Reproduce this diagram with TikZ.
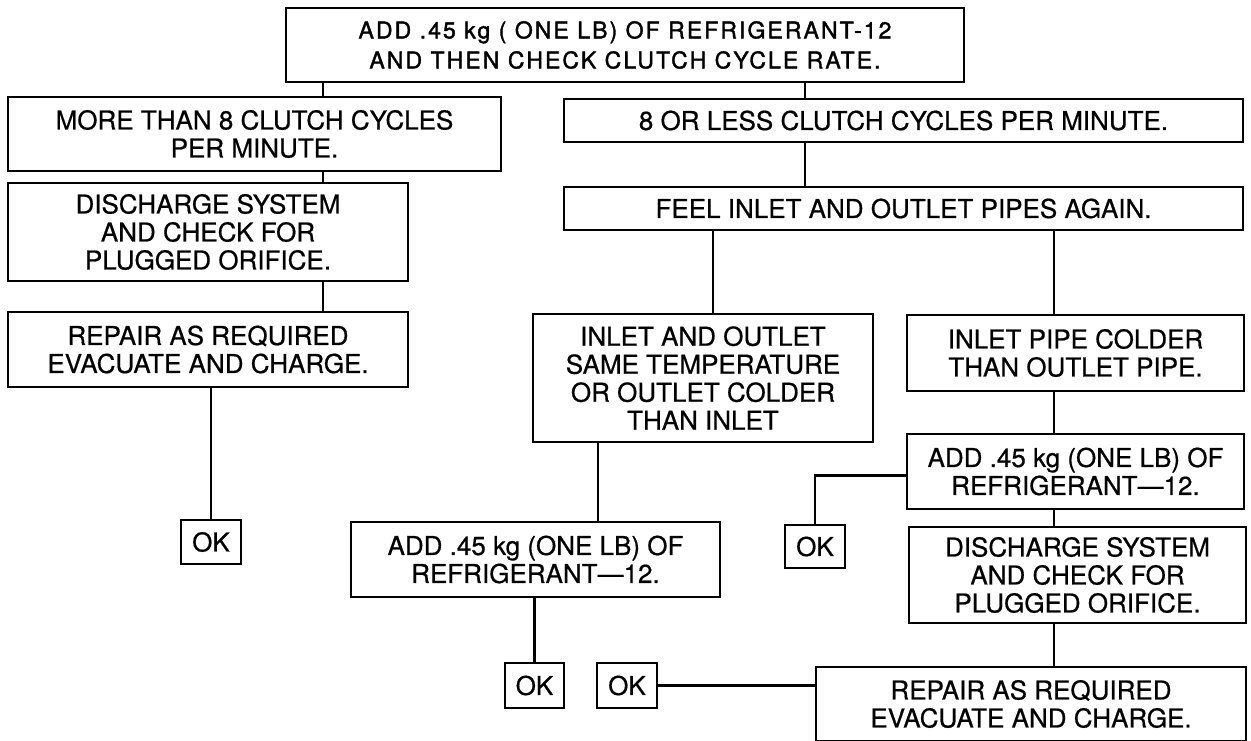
\documentclass[tikz,border=0pt]{standalone}
\usepackage{fontspec}
\setmainfont[FakeBold=0.6]{TeX Gyre Heros}
\newfontfamily\spacedfont[LetterSpace=9,FakeBold=1.6]{TeX Gyre Heros}
\usepackage{tikz}

\newcommand\boxfont{\fontsize{26}{28}\selectfont}
\newcommand\headfont{\spacedfont\fontsize{23}{30}\selectfont}

\tikzset{
	box/.style={draw, line width=2.8pt, align=center, inner sep=0pt, font=\boxfont},
	link/.style={line width=2.8pt},
}

\begin{document}
\begin{tikzpicture}[x=1pt,y=-1pt]
			\useasboundingbox[fill=white] (0,0) rectangle (1251,740);
			
			% left column
			\node[box,minimum width=678pt,minimum height=74pt,font=\headfont] (top) at (625,45) {ADD .45 kg ( ONE LB) OF REFRIGERANT-12\\AND THEN CHECK CLUTCH CYCLE RATE.};
			\node[box,minimum width=493pt,minimum height=74pt] (more) at (254.5,134) {MORE THAN 8 CLUTCH CYCLES\\PER MINUTE.};
			\node[box,minimum width=400pt,minimum height=98pt] (dischL) at (208,232) {DISCHARGE SYSTEM\\AND CHECK FOR\\PLUGGED ORIFICE.};
			\node[box,minimum width=400pt,minimum height=75pt] (repairL) at (208,349.5) {REPAIR AS REQUIRED\\EVACUATE AND CHARGE.};
			\node[box,minimum width=60pt,minimum height=44pt] (okA) at (211,542) {OK};
			
			% right column
			\node[box,minimum width=679pt,minimum height=43pt] (less) at (903.5,120.5) {8 OR LESS CLUTCH CYCLES PER MINUTE.};
			\node[box,minimum width=679pt,minimum height=43pt] (feel) at (903.5,208.5) {FEEL INLET AND OUTLET PIPES AGAIN.};
			\node[box,minimum width=340pt,minimum height=128pt] (same) at (703,378) {INLET AND OUTLET\\SAME TEMPERATURE\\OR OUTLET COLDER\\THAN INLET};
			\node[box,minimum width=337pt,minimum height=76pt] (colder) at (1075.5,353) {INLET PIPE COLDER\\THAN OUTLET PIPE.};
			\node[box,minimum width=337pt,minimum height=75pt] (addR) at (1075.5,471.5) {ADD .45 kg (ONE LB) OF\\REFRIGERANT—12.};
			\node[box,minimum width=60pt,minimum height=43pt] (okB) at (815,546.5) {OK};
			\node[box,minimum width=337pt,minimum height=96pt] (dischR) at (1077.5,575) {DISCHARGE SYSTEM\\AND CHECK FOR\\PLUGGED ORIFICE.};
			\node[box,minimum width=369pt,minimum height=75pt] (addL) at (535.5,559.5) {ADD .45 kg (ONE LB) OF\\REFRIGERANT—12.};
			\node[box,minimum width=59pt,minimum height=45pt] (okC) at (534.5,685.5) {OK};
			\node[box,minimum width=60pt,minimum height=45pt] (okD) at (627,685.5) {OK};
			\node[box,minimum width=430pt,minimum height=74pt] (repairR) at (1031,704) {REPAIR AS REQUIRED\\EVACUATE AND CHARGE.};
			
			\coordinate (xa) at (323,0);
			\coordinate (xb) at (805,0);
			\coordinate (xc) at (713,0);
			\coordinate (xd) at (1054,0);
			\coordinate (xe) at (598,0);
			
			\draw[link] (top.south -| xa) -- (more.north -| xa);
			\draw[link] (more.south -| xa) -- (dischL.north -| xa);
			\draw[link] (dischL.south -| xa) -- (repairL.north -| xa);
			\draw[link] (repairL.south -| okA.north) -- (okA.north);
			
			\draw[link] (top.south -| xb) -- (less.north -| xb);
			\draw[link] (less.south -| xb) -- (feel.north -| xb);
			\draw[link] (feel.south -| xc) -- (same.north -| xc);
			\draw[link] (feel.south -| xd) -- (colder.north -| xd);
			\draw[link] (colder.south -| xd) -- (addR.north -| xd);
			\draw[link] (addR.south -| xd) -- (dischR.north -| xd);
			\draw[link] (dischR.south -| xd) -- (repairR.north -| xd);
			\draw[link] ([yshift=-4pt]addR.west) -| (okB.north);
			
			\draw[link] (same.south -| xe) -- (addL.north -| xe);
			\draw[link] (addL.south -| okC.north) -- (okC.north);
			\draw[link] (okD.east) -- (okD.east -| repairR.west);
\end{tikzpicture}
\end{document}
